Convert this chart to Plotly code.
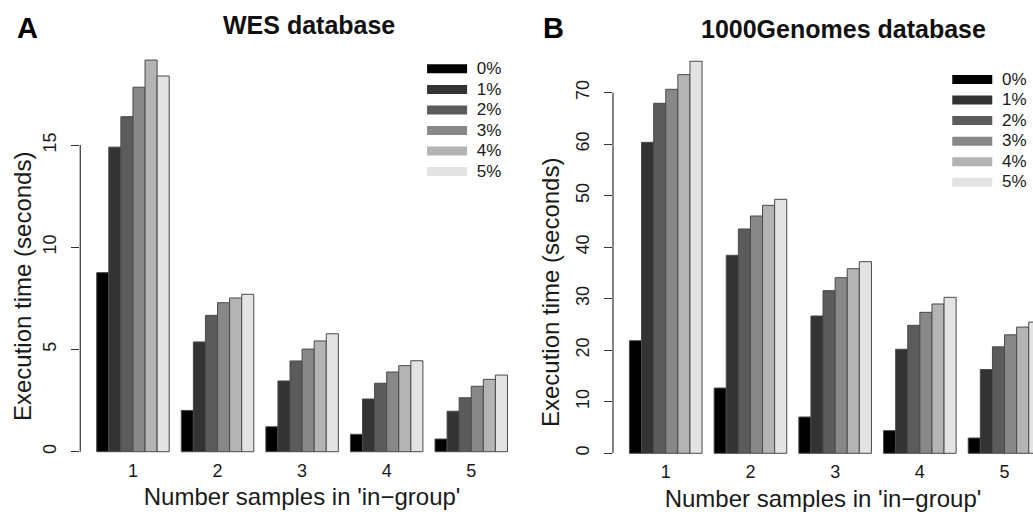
import plotly.graph_objects as go

# ---------------- data ----------------
groups = [1, 2, 3, 4, 5]
group_labels = ["1", "2", "3", "4", "5"]
series_names = ["0%", "1%", "2%", "3%", "4%", "5%"]

wes_0 = [8.76, 2.02, 1.22, 0.85, 0.62]
wes_1 = [14.90, 5.37, 3.46, 2.58, 1.98]
wes_2 = [16.39, 6.67, 4.44, 3.35, 2.64]
wes_3 = [17.83, 7.29, 5.02, 3.90, 3.20]
wes_4 = [19.16, 7.52, 5.42, 4.21, 3.54]
wes_5 = [18.38, 7.70, 5.77, 4.45, 3.75]

kg_0 = [21.86, 12.67, 7.05, 4.40, 2.97]
kg_1 = [60.36, 38.43, 26.65, 20.20, 16.26]
kg_2 = [67.93, 43.54, 31.57, 24.84, 20.67]
kg_3 = [70.65, 46.06, 34.09, 27.36, 23.00]
kg_4 = [73.50, 48.13, 35.83, 28.98, 24.50]
kg_5 = [76.08, 49.30, 37.19, 30.28, 25.47]

wes_ticks = [0, 5, 10, 15]
kg_ticks = [0, 10, 20, 30, 40, 50, 60, 70]

colors = ["#000000", "#333333", "#5b5b5b", "#888888", "#b4b4b4", "#e3e3e3"]
outline = "#4a4a4a"

wes_series = [wes_0, wes_1, wes_2, wes_3, wes_4, wes_5]
kg_series = [kg_0, kg_1, kg_2, kg_3, kg_4, kg_5]

FONT = "Liberation Sans, Arial, Helvetica, sans-serif"
TXT = "#1a1a1a"


def legend_label(name):
    return '<span style="font-size:17px">\u00a0' + name + "</span>"


fig = go.Figure()

for vals, name, col in zip(wes_series, series_names, colors):
    fig.add_trace(go.Bar(x=groups, y=vals, name=name, marker=dict(color=col, line=dict(color=outline, width=1)),
                         showlegend=False, xaxis="x", yaxis="y"))
    fig.add_trace(go.Scatter(x=[None], y=[None], mode="lines", name=legend_label(name),
                             line=dict(color=col, width=9), legend="legend", xaxis="x", yaxis="y"))

for vals, name, col in zip(kg_series, series_names, colors):
    fig.add_trace(go.Bar(x=groups, y=vals, name=name, marker=dict(color=col, line=dict(color=outline, width=1)),
                         showlegend=False, xaxis="x2", yaxis="y2"))
    fig.add_trace(go.Scatter(x=[None], y=[None], mode="lines", name=legend_label(name),
                             line=dict(color=col, width=9), legend="legend2", xaxis="x2", yaxis="y2"))

xcommon = dict(tickvals=groups, ticktext=group_labels, showline=False, ticks="", showgrid=False,
               zeroline=False, tickfont=dict(size=18, color=TXT, family=FONT), automargin=False,
               ticklabelstandoff=2)
ycommon = dict(showline=False, ticks="outside", ticklen=8, tickwidth=1.2, tickcolor="#333333",
               showgrid=False, zeroline=False, tickangle=-90, tickfont=dict(size=18, color=TXT, family=FONT),
               automargin=False, ticklabelstandoff=8)
xtitle = "Number samples in 'in\u2212group'"
ytitle = "Execution time (seconds)"

fig.update_layout(
    width=1033, height=525,
    margin=dict(l=0, r=0, t=0, b=0),
    paper_bgcolor="white", plot_bgcolor="white",
    barmode="group", bargap=1 / 7, bargroupgap=0,
    font=dict(family=FONT, color=TXT),
    xaxis=dict(domain=[0.0777, 0.5072], range=[0.377, 5.623], anchor="y",
               title=dict(text=xtitle, font=dict(size=24, family=FONT, color=TXT), standoff=8),
               **xcommon),
    yaxis=dict(domain=[0.1322, 0.9156], range=[-0.19, 19.93], anchor="x", tickvals=wes_ticks, **ycommon),
    xaxis2=dict(domain=[0.5934, 1.0], range=[0.377, 5.336], anchor="y2",
                title=dict(text=xtitle, font=dict(size=24, family=FONT, color=TXT), standoff=8),
                **xcommon),
    yaxis2=dict(domain=[0.1291, 0.9133], range=[-0.76, 79.15], anchor="x2", tickvals=kg_ticks, **ycommon),
    legend=dict(x=0.4086, y=0.898, xanchor="left", yanchor="top", bgcolor="rgba(0,0,0,0)",
                font=dict(size=13.5, family=FONT, color=TXT), tracegroupgap=0, itemwidth=40),
    legend2=dict(x=0.917, y=0.8777, xanchor="left", yanchor="top", bgcolor="rgba(0,0,0,0)",
                 font=dict(size=13.5, family=FONT, color=TXT), tracegroupgap=0, itemwidth=40),
)

# y axis lines spanning from first to last tick (R style)
fig.add_shape(type="line", xref="x domain", yref="y", x0=0, x1=0, y0=min(wes_ticks), y1=max(wes_ticks),
              line=dict(color="#333333", width=1.2))
fig.add_shape(type="line", xref="x2 domain", yref="y2", x0=0, x1=0, y0=min(kg_ticks), y1=max(kg_ticks),
              line=dict(color="#333333", width=1.2))

# y axis titles
fig.add_annotation(text=ytitle, xref="paper", yref="paper", x=22 / 1033, y=1 - 287 / 525, textangle=-90,
                   showarrow=False, font=dict(size=24, family=FONT, color=TXT), xanchor="center", yanchor="middle")
fig.add_annotation(text=ytitle, xref="paper", yref="paper", x=550 / 1033, y=1 - 293 / 525, textangle=-90,
                   showarrow=False, font=dict(size=24, family=FONT, color=TXT), xanchor="center", yanchor="middle")

# titles and panel letters
fig.add_annotation(text="<b>WES database</b>", xref="paper", yref="paper", x=0.2991, y=1 - 25 / 525,
                   showarrow=False, font=dict(size=25, family=FONT, color="#111111"), xanchor="center", yanchor="middle")
fig.add_annotation(text="<b>1000Genomes database</b>", xref="paper", yref="paper", x=0.817, y=1 - 29 / 525,
                   showarrow=False, font=dict(size=25, family=FONT, color="#111111"), xanchor="center", yanchor="middle")
fig.add_annotation(text="<b>A</b>", xref="paper", yref="paper", x=27 / 1033, y=1 - 28 / 525,
                   showarrow=False, font=dict(size=29, family=FONT, color="#000000"), xanchor="center", yanchor="middle")
fig.add_annotation(text="<b>B</b>", xref="paper", yref="paper", x=553 / 1033, y=1 - 28 / 525,
                   showarrow=False, font=dict(size=29, family=FONT, color="#000000"), xanchor="center", yanchor="middle")

fig.write_html("out.html", config={"displayModeBar": False},
               post_script="document.body.style.margin='0';")
